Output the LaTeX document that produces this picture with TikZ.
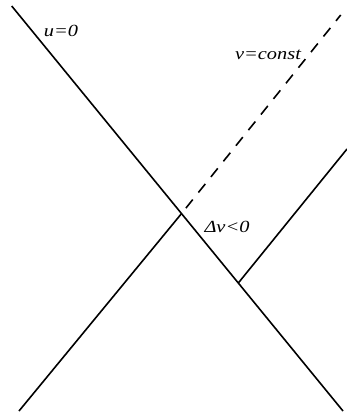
\documentclass[tikz,border=0pt]{standalone}
\usepackage{fontspec}
\setmainfont{Liberation Serif}
\newfontfamily\labfont[FakeStretch=1.2]{Liberation Serif}
\begin{document}
\begin{tikzpicture}[x=1pt,y=-1pt,
  ray/.style={line width=1.6pt, line cap=butt},
  dashray/.style={ray, dash pattern=on 11pt off 9pt, dash phase=13pt},
  lab/.style={inner sep=0pt, font=\labfont\itshape\fontsize{17}{20}\selectfont}]
\useasboundingbox (0,0) rectangle (347,414);
\coordinate (A) at (11.7,6);
\coordinate (X) at (181.5,213.6);
\coordinate (B) at (343,411);
\coordinate (C) at (19,411);
\coordinate (D) at (340.7,15);
\coordinate (E) at (238.3,283);
\coordinate (F) at (347,149);
\draw[ray] (A) -- (B);
\draw[ray] (X) -- (C);
\draw[dashray] (X) -- (D);
\draw[ray] (E) -- (F);
\node[lab] (u0) at (61,31) {u=0};
\node[lab] (vc) at (268,55) {v=const};
\node[lab] (dv) at (227,227) {Δv<0};
\end{tikzpicture}
\end{document}
